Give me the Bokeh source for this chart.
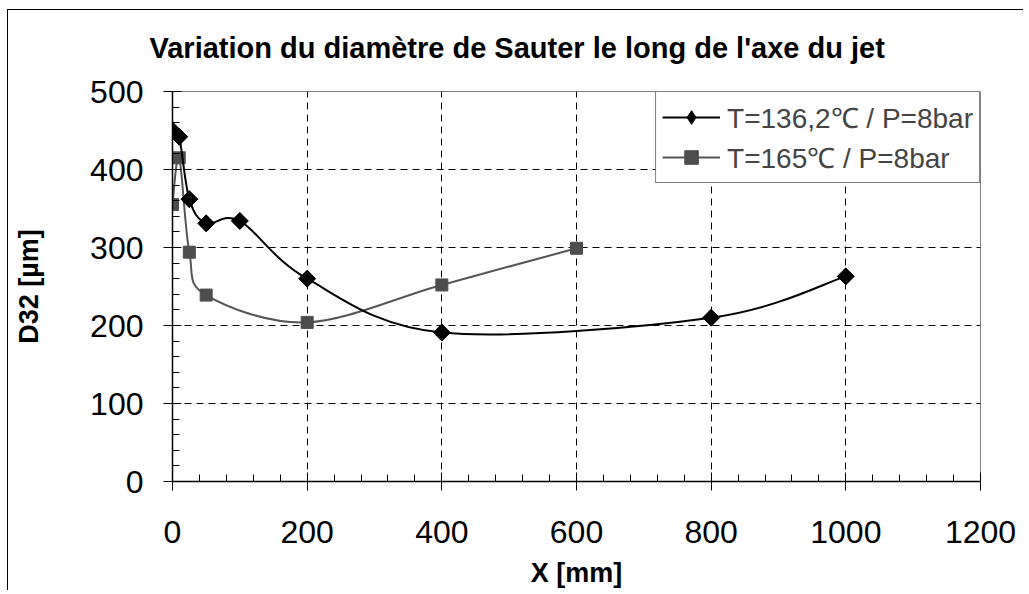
import math
from bokeh.plotting import figure
from bokeh.models import Range1d, SingleIntervalTicker, Legend, LegendItem, InlineStyleSheet
from bokeh.embed import file_html
from bokeh.resources import INLINE

# data
x1 = [0, 10, 25, 50, 100, 200, 400, 800, 1000]
y1 = [450, 442, 362, 331, 334, 260, 191, 210, 263]
x2 = [0, 10, 25, 50, 200, 400, 600]
y2 = [355, 415, 294, 239, 204, 252, 299]
label1 = "T=136,2℃ / P=8bar"
label2 = "T=165℃ / P=8bar"
x_ticks_interval = 200
y_ticks_interval = 100

FONT = "Liberation Sans"

frame_css = InlineStyleSheet(css="""
:host::after {
  content: "";
  position: absolute;
  left: 7px; top: 9px; right: 0; bottom: 0;
  border-left: 1.5px solid black;
  border-top: 1.5px solid black;
  pointer-events: none;
  z-index: 50;
}
""")

p = figure(frame_width=808, frame_height=390, output_backend="svg", toolbar_location=None,
           x_range=Range1d(0, 1200), y_range=Range1d(0, 500),
           min_border_left=172, min_border_top=91, min_border_right=43, min_border_bottom=105,
           title="Variation du diamètre de Sauter le long de l'axe du jet",
           stylesheets=[frame_css])
p.background_fill_color = "white"
p.border_fill_color = "white"
p.outline_line_color = "#808080"
p.outline_line_width = 1

p.title.text_font = FONT
p.title.text_font_size = "29px"
p.title.text_font_style = "bold"
p.title.text_color = "black"
p.title.align = "left"
p.title.offset = -23
p.title.standoff = 56

p.xaxis.ticker = SingleIntervalTicker(interval=x_ticks_interval, num_minor_ticks=5)
p.yaxis.ticker = SingleIntervalTicker(interval=y_ticks_interval, num_minor_ticks=5)
for ax in (p.xaxis, p.yaxis):
    ax.axis_line_color = "black"
    ax.axis_line_width = 1.5
    ax.major_tick_line_color = "black"
    ax.minor_tick_line_color = "black"
    ax.major_tick_in = 9
    ax.major_tick_out = 9
    ax.minor_tick_in = 7
    ax.minor_tick_out = 0
    ax.major_label_text_font = FONT
    ax.major_label_text_font_size = "32px"
    ax.major_label_text_color = "black"
    ax.axis_label_text_font = FONT
    ax.axis_label_text_font_size = "27px"
    ax.axis_label_text_font_style = "bold"
    ax.axis_label_text_color = "black"
p.xaxis.axis_label = "X [mm]"
p.yaxis.axis_label = "D32 [µm]"
p.xaxis.major_label_standoff = 30
p.xaxis.axis_label_standoff = 12
p.yaxis.major_label_standoff = 20
p.yaxis.axis_label_standoff = 43

for g in (p.xgrid, p.ygrid):
    g.grid_line_color = "black"
    g.grid_line_dash = "7 5"
    g.grid_line_width = 1


def smooth_controls(xs, ys):
    n = len(xs)
    x0s, y0s, x1s, y1s, c0x, c0y, c1x, c1y = ([] for _ in range(8))
    for i in range(n - 1):
        pxm = xs[i - 1] if i > 0 else xs[i]
        pym = ys[i - 1] if i > 0 else ys[i]
        pxp = xs[i + 2] if i + 2 < n else xs[i + 1]
        pyp = ys[i + 2] if i + 2 < n else ys[i + 1]
        x0s.append(xs[i]); y0s.append(ys[i])
        x1s.append(xs[i + 1]); y1s.append(ys[i + 1])
        c0x.append(xs[i] + (xs[i + 1] - pxm) / 6.0)
        c0y.append(ys[i] + (ys[i + 1] - pym) / 6.0)
        c1x.append(xs[i + 1] - (pxp - xs[i]) / 6.0)
        c1y.append(ys[i + 1] - (pyp - ys[i]) / 6.0)
    return dict(x0=x0s, y0=y0s, x1=x1s, y1=y1s, cx0=c0x, cy0=c0y, cx1=c1x, cy1=c1y)


GRAY = "#4D4D4D"
b2 = p.bezier(line_color="#555555", line_width=2, **smooth_controls(x2, y2))
s2 = p.scatter(x2, y2, marker="square", size=12, fill_color=GRAY, line_color=GRAY)
b1 = p.bezier(line_color="black", line_width=2, **smooth_controls(x1, y1))
# diamond glyph (used by the legend), covered by the wider rotated-square markers
s1_leg = p.scatter(x1, y1, marker="diamond", size=16, fill_color="black", line_color="black")
s1 = p.scatter(x1, y1, marker="square", size=12, angle=math.pi / 4,
               fill_color="black", line_color="black")

legend = Legend(items=[LegendItem(label=label1, renderers=[b1, s1_leg]),
                       LegendItem(label=label2, renderers=[b2, s2])],
                location="top_right")
legend.margin = 0
legend.padding = 6
legend.spacing = 2
legend.glyph_width = 58
legend.glyph_height = 34
legend.label_standoff = 7
legend.label_text_font = FONT
legend.label_text_font_size = "28px"
legend.label_height = 34
legend.border_line_color = "black"
legend.border_line_width = 1
legend.background_fill_color = "white"
legend.background_fill_alpha = 1
p.add_layout(legend)

open("out.html", "w").write(file_html(p, INLINE))
